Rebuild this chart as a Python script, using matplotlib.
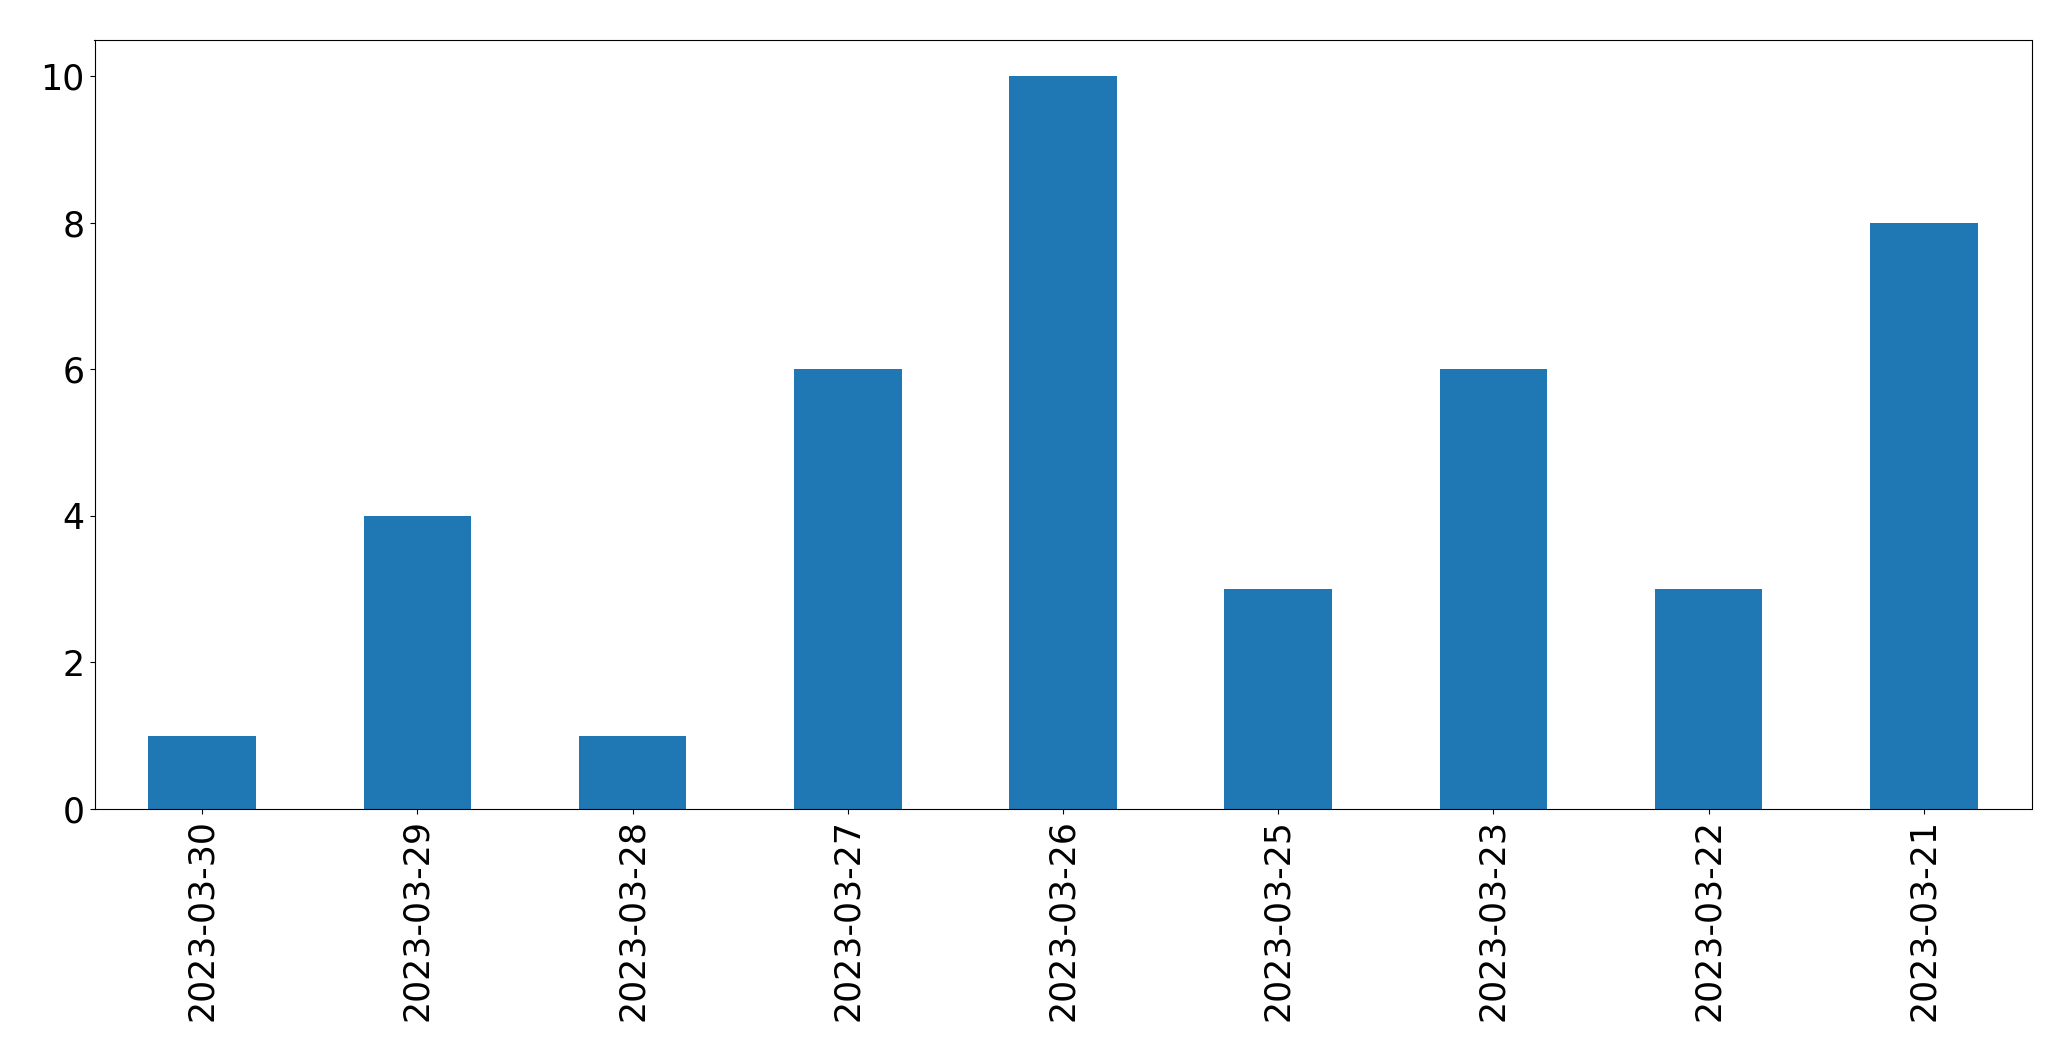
import matplotlib
matplotlib.use("Agg")
import matplotlib.pyplot as plt
import numpy as np

dates = ["2023-03-30", "2023-03-29", "2023-03-28", "2023-03-27", "2023-03-26",
         "2023-03-25", "2023-03-23", "2023-03-22", "2023-03-21"]
counts = [1, 4, 1, 6, 10, 3, 6, 3, 8]

W, H = 2071, 1061
fig = plt.figure(figsize=(W / 100, H / 100), dpi=100)
left, right, top, bottom = 94.5, 2031.5, 39.5, 809.0
ax = fig.add_axes([left / W, 1 - bottom / H, (right - left) / W, (bottom - top) / H])

x = np.arange(len(dates))
ax.bar(x, counts, width=0.5, color="#1f77b4")
ax.set_xlim(-0.5, len(dates) - 0.5)
ax.set_xticks(x)
ax.set_xticklabels(dates, rotation=90)
ax.set_yticks([0, 2, 4, 6, 8, 10])
ax.tick_params(labelsize=25)

fig.savefig("out.png", dpi=100)
